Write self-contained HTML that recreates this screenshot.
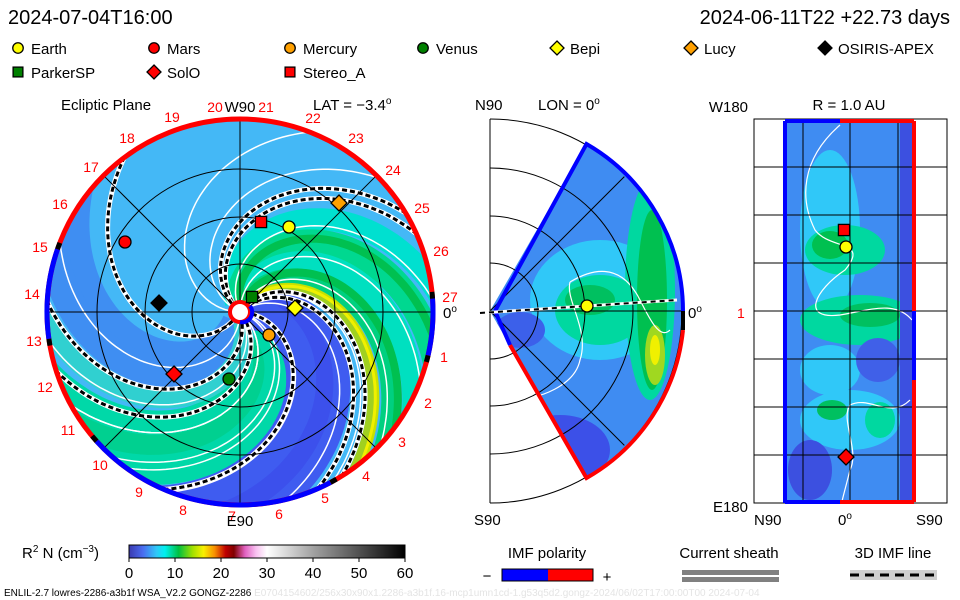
<!DOCTYPE html>
<html><head><meta charset="utf-8"><style>
body{margin:0;background:#fff;}
svg{display:block;font-family:"Liberation Sans",sans-serif;}
</style></head><body>
<svg id="chart" width="960" height="600" viewBox="0 0 960 600">
<defs>
<clipPath id="clipEcl"><circle cx="240" cy="312" r="191"/></clipPath>
<clipPath id="clipWedge"><path d="M490,311 L586.5,143.9 A193,193 0 0 1 586.5,478.1 Z"/></clipPath>
<clipPath id="clipRect"><rect x="785" y="121" width="129" height="381"/></clipPath>
<linearGradient id="cbar" x1="0" x2="1" y1="0" y2="0">
<stop offset="0" stop-color="#3a3ab0"/><stop offset="0.05" stop-color="#4a6cf0"/><stop offset="0.1" stop-color="#30c8f8"/><stop offset="0.13" stop-color="#00f0f0"/><stop offset="0.18" stop-color="#00c040"/><stop offset="0.23" stop-color="#a0e000"/><stop offset="0.27" stop-color="#f8f000"/><stop offset="0.31" stop-color="#f89000"/><stop offset="0.35" stop-color="#c00000"/><stop offset="0.38" stop-color="#800000"/><stop offset="0.42" stop-color="#e060c0"/><stop offset="0.46" stop-color="#f8c0f0"/><stop offset="0.5" stop-color="#ffffff"/><stop offset="0.67" stop-color="#a0a0a0"/><stop offset="1" stop-color="#000000"/>
</linearGradient>
</defs>
<rect width="960" height="600" fill="#fff"/>
<text x="8" y="24" font-size="20">2024-07-04T16:00</text>
<text x="950" y="24" font-size="20" text-anchor="end">2024-06-11T22 +22.73 days</text>
<g id="legend"></g>

<g>
<g clip-path="url(#clipEcl)" id="eclFill"><rect x="40" y="110" width="400" height="400" fill="#44b8f6"/></g>
<g id="eclGrid" fill="none" stroke="#000" stroke-width="1"></g>
<g id="eclRing"></g>
<g id="eclLabels" font-size="14" fill="#f00"></g>
<text x="61" y="110" font-size="15">Ecliptic Plane</text>
<text x="313" y="110" font-size="15">LAT = −3.4<tspan dy="-6" font-size="10">o</tspan></text>
</g>

<g>
<g clip-path="url(#clipWedge)">
<rect x="480" y="130" width="220" height="360" fill="#3f8cf2"/>
<ellipse cx="600" cy="300" rx="70" ry="60" fill="#30c8f8"/>
<ellipse cx="600" cy="310" rx="45" ry="35" fill="#00d8a0"/>
<ellipse cx="590" cy="300" rx="25" ry="15" fill="#00c060"/>
<ellipse cx="650" cy="290" rx="25" ry="110" fill="#00d8a0"/>
<ellipse cx="652" cy="300" rx="15" ry="90" fill="#00c050"/>
<ellipse cx="655" cy="355" rx="10" ry="30" fill="#a0d820"/>
<ellipse cx="655" cy="350" rx="5" ry="15" fill="#f0f000"/>
<ellipse cx="560" cy="450" rx="50" ry="35" fill="#3c50e8"/>
<ellipse cx="520" cy="330" rx="25" ry="18" fill="#3c60ea"/>
<path d="M570,282 C590,270 620,260 640,300 C650,320 660,340 670,330 M570,282 C565,300 590,330 580,360 C575,385 540,400 510,400" fill="none" stroke="#fff" stroke-width="1.2"/>
</g>
<g id="merGrid" fill="none" stroke="#000" stroke-width="1"></g>
<text x="475" y="110" font-size="15">N90</text>
<text x="538" y="110" font-size="15">LON = 0<tspan dy="-6" font-size="10">o</tspan></text>
<text x="474" y="525" font-size="15">S90</text>
<text x="688" y="318" font-size="15">0<tspan dy="-6" font-size="10">o</tspan></text>
</g>

<g>
<g clip-path="url(#clipRect)">
<rect x="785" y="121" width="129" height="381" fill="#3f8cf2"/>
<ellipse cx="830" cy="230" rx="30" ry="80" fill="#30c8f8"/>
<ellipse cx="845" cy="250" rx="40" ry="25" fill="#00d8a0"/>
<ellipse cx="830" cy="245" rx="18" ry="14" fill="#00c050"/>
<ellipse cx="860" cy="320" rx="60" ry="25" fill="#00d8a0"/>
<ellipse cx="870" cy="315" rx="30" ry="12" fill="#00c060"/>
<ellipse cx="830" cy="370" rx="30" ry="25" fill="#30c8f8"/>
<ellipse cx="850" cy="420" rx="50" ry="30" fill="#30c8f8"/>
<ellipse cx="832" cy="410" rx="15" ry="10" fill="#00c060"/>
<ellipse cx="880" cy="420" rx="15" ry="18" fill="#00d8a0"/>
<ellipse cx="878" cy="360" rx="22" ry="22" fill="#4060e8"/>
<ellipse cx="810" cy="470" rx="22" ry="30" fill="#3c50e0"/>
<rect x="900" y="121" width="14" height="381" fill="#3c50e0"/>
<path d="M840,125 C800,160 800,200 815,230 C830,250 870,240 845,270 C815,290 800,320 840,315 C870,310 895,300 912,320 M910,400 C890,420 870,395 850,405 C840,420 860,450 850,470 C845,490 842,500 842,502" fill="none" stroke="#fff" stroke-width="1.2"/>
</g>
<g id="radGrid" fill="none" stroke="#000" stroke-width="1"></g>
<text x="748" y="112" font-size="15" text-anchor="end">W180</text>
<text x="849" y="110" font-size="15" text-anchor="middle">R = 1.0 AU</text>
<text x="748" y="512" font-size="15" text-anchor="end">E180</text>
<text x="754" y="525" font-size="15">N90</text>
<text x="838" y="525" font-size="15">0<tspan dy="-6" font-size="10">o</tspan></text>
<text x="916" y="525" font-size="15">S90</text>
<text x="737" y="318" font-size="14" fill="#f00">1</text>
</g>

<g id="markers"></g>

<g>
<text x="22" y="558" font-size="15">R<tspan dy="-6" font-size="10">2</tspan><tspan dy="6"> N (cm</tspan><tspan dy="-6" font-size="10">−3</tspan><tspan dy="6">)</tspan></text>
<rect x="129" y="545" width="276" height="13" fill="url(#cbar)" stroke="#000" stroke-width="1"/>
<g id="cbarTicks" font-size="15" text-anchor="middle"></g>
</g>
<g>
<text x="547" y="558" font-size="15" text-anchor="middle">IMF polarity</text>
<rect x="502" y="569" width="46" height="12" fill="#0000ff"/>
<rect x="548" y="569" width="45" height="12" fill="#ff0000"/>
<rect x="502" y="569" width="91" height="12" fill="none" stroke="#000"/>
<text x="487" y="581" font-size="15" text-anchor="middle">−</text>
<text x="607" y="582" font-size="15" text-anchor="middle">+</text>
</g>
<g>
<text x="729" y="558" font-size="15" text-anchor="middle">Current sheath</text>
<rect x="682" y="570" width="97" height="5" fill="#808080"/>
<rect x="682" y="577" width="97" height="5" fill="#808080"/>
</g>
<g>
<text x="893" y="558" font-size="15" text-anchor="middle">3D IMF line</text>
<rect x="850" y="570" width="87" height="10" fill="#d0d0d0"/>
<line x1="850" y1="575" x2="937" y2="575" stroke="#000" stroke-width="3" stroke-dasharray="9,6"/>
</g>
<text x="4" y="596" font-size="10">ENLIL-2.7 lowres-2286-a3b1f WSA_V2.2 GONGZ-2286 <tspan fill="#e4e4e4">E0704154602/256x30x90x1.2286-a3b1f.16-mcp1umn1cd-1.g53q5d2.gongz-2024/06/02T17:00:00T00    2024-07-04</tspan></text>
</svg>
<script>
const NS="http://www.w3.org/2000/svg";
const CX=240, CY=312, R=191, K=100;
// data arrays
const legendNames=["Earth","Mars","Mercury","Venus","Bepi","Lucy","OSIRIS-APEX","ParkerSP","SolO","Stereo_A"];
const legendShapes=["circle","circle","circle","circle","diamond","diamond","diamond","square","diamond","square"];
const legendColors=["#ffff00","#ff0000","#ffa000","#008000","#ffff00","#ffa000","#000000","#008000","#ff0000","#ff0000"];
const bodyX=[289,125,269,229,295,339,159,252,174,261];
const bodyY=[227,242,335,379,308,203,303,297,374,222];
const bandAngles=[150,165,205,220,235,185,-82,-95,-105,10,-8,-25,-40,-52,-35,-5,-49,-50];
const bandColors=["#3f8ef2","#3f8ef2","#00d8a8","#00d090","#00d8a8","#30d0d0","#3f5cf0","#3c50ec","#3f5cf0","#00e0d0","#00d890","#00e0c0","#00d080","#a0d020","#00c050","#00c050","#c8e000","#f0f000"];
const bandWidths=[30,30,30,25,30,20,40,40,30,22,26,22,18,10,8,8,5,3];
const fieldAngles=[-20,-42,-60,-75,-125,-150,160,190,210,230,250,5,45,70];
const sheathAngles=[25,32,-65,-57,-112,128,178,199];
const sectorNums=[18,19,20,21,22,23,24,25,26,27,1,2,3,4,5,6,7,8,9,10,11,12,13,14,15,16,17];
const sectorX=[127,172,215,266,313,356,393,422,441,450,444,428,402,366,325,279,232,183,139,100,68,45,34,32,40,60,91];
const sectorY=[143,122,112,112,123,143,175,213,256,302,362,408,447,481,503,519,521,515,497,470,435,392,346,299,252,209,172];
const cbarTicks=[0,10,20,30,40,50,60];
const ringBlue=[[161,188],[222,298],[-13,4]];

function el(tag,attrs,parent){const e=document.createElementNS(NS,tag);for(const k in attrs)e.setAttribute(k,attrs[k]);parent.appendChild(e);return e;}
function spiral(phiOutDeg,r0){let d="";for(let r=r0;r<=R+20;r+=3){const p=phiOutDeg*Math.PI/180+(R-r)/K;const x=CX+r*Math.cos(p),y=CY-r*Math.sin(p);d+=(d?"L":"M")+x.toFixed(1)+","+y.toFixed(1);}return d;}

const fill=document.getElementById("eclFill");
bandAngles.forEach((a,i)=>{const p=el("path",{d:spiral(a,10),fill:"none",stroke:bandColors[i],"stroke-width":bandWidths[i]},fill);

});
fieldAngles.forEach(a=>{const p=el("path",{d:spiral(a,12),fill:"none",stroke:"#fff","stroke-width":1.5},fill);

});
sheathAngles.forEach(a=>{const d=spiral(a,12);
const w=el("path",{d:d,fill:"none",stroke:"#fff","stroke-width":5},fill);


el("path",{d:d,fill:"none",stroke:"#000","stroke-width":3,"stroke-dasharray":"5,3"},fill);});

const g=document.getElementById("eclGrid");
[48,95,143].forEach(r=>el("circle",{cx:CX,cy:CY,r:r},g));
[0,45,90,135].forEach(a=>{const c=Math.cos(a*Math.PI/180)*R,s=Math.sin(a*Math.PI/180)*R;el("line",{x1:CX-c,y1:CY+s,x2:CX+c,y2:CY-s},g);});

const ring=document.getElementById("eclRing");
const rc=el("circle",{cx:CX,cy:CY,r:R+2,fill:"none",stroke:"#ff0000","stroke-width":5},ring);


function arc(r,a1,a2){const p1=a1*Math.PI/180,p2=a2*Math.PI/180;return "M"+(CX+r*Math.cos(p1))+","+(CY-r*Math.sin(p1))+" A"+r+","+r+" 0 0 0 "+(CX+r*Math.cos(p2))+","+(CY-r*Math.sin(p2));}
ringBlue.forEach(b=>{el("path",{d:arc(R+2,b[0],b[1]),fill:"none",stroke:"#0000ff","stroke-width":5},ring);
el("path",{d:arc(R+2,b[0]-2,b[0]),fill:"none",stroke:"#000","stroke-width":5},ring);
el("path",{d:arc(R+2,b[1],b[1]+2),fill:"none",stroke:"#000","stroke-width":5},ring);});
el("circle",{cx:CX,cy:CY,r:10,fill:"#fff",stroke:"#ff0000","stroke-width":4},ring);
el("path",{d:"M"+(CX+10)+","+(CY-6)+" A10,10 0 0 1 "+(CX)+","+(CY+10),fill:"none",stroke:"#0000ff","stroke-width":4},ring);

const lab=document.getElementById("eclLabels");
sectorNums.forEach((n,i)=>{const t=el("text",{x:sectorX[i],y:sectorY[i],"text-anchor":"middle"},lab);t.textContent=n;

});
[["W90",240,112],["E90",240,526]].forEach(l=>{const t=el("text",{x:l[1],y:l[2],"text-anchor":"middle",fill:"#000","font-size":15},lab);t.textContent=l[0];

});
const z=el("text",{x:443,y:318,fill:"#000","font-size":15},lab);z.innerHTML='0<tspan dy="-6" font-size="10">o</tspan>';

// meridional grid
const mg=document.getElementById("merGrid");
const MX=490,MY=311;
el("line",{x1:MX,y1:119,x2:MX,y2:503},mg);
[48,95,143,192].forEach(r=>el("path",{d:"M"+MX+","+(MY-r)+" A"+r+","+r+" 0 0 1 "+MX+","+(MY+r)},mg));
el("line",{x1:MX,y1:MY,x2:683,y2:MY},mg);
[45,-45].forEach(a=>{const p=a*Math.PI/180;el("line",{x1:MX,y1:MY,x2:MX+190*Math.cos(p),y2:MY-190*Math.sin(p)},mg);});
el("path",{d:"M495,311 L586.5,144 A193,193 0 0 1 683,311",stroke:"#0000ff","stroke-width":4},mg);
el("path",{d:"M683,330 A193,193 0 0 1 586.5,478 L510,345",stroke:"#ff0000","stroke-width":4},mg);
el("path",{d:"M495,311 L510,345",stroke:"#0000ff","stroke-width":4},mg);
el("line",{x1:683,y1:311,x2:683,y2:330,stroke:"#000","stroke-width":4},mg);
el("path",{d:"M480,313 L677,300",stroke:"#fff","stroke-width":3},mg);
el("path",{d:"M480,313 L677,300",stroke:"#000","stroke-width":2,"stroke-dasharray":"5,4"},mg);

// radial grid
const rg=document.getElementById("radGrid");
el("rect",{x:754,y:119,width:193,height:384},rg);
[803,850,898].forEach(x=>el("line",{x1:x,y1:119,x2:x,y2:503},rg));
for(let y=167;y<503;y+=48)el("line",{x1:754,y1:y,x2:947,y2:y},rg);
el("line",{x1:785,y1:121,x2:785,y2:503,stroke:"#0000ff","stroke-width":4},rg);
el("line",{x1:785,y1:121,x2:840,y2:121,stroke:"#0000ff","stroke-width":4},rg);
el("line",{x1:840,y1:121,x2:914,y2:121,stroke:"#ff0000","stroke-width":4},rg);
el("line",{x1:785,y1:502,x2:840,y2:502,stroke:"#0000ff","stroke-width":4},rg);
el("line",{x1:840,y1:502,x2:914,y2:502,stroke:"#ff0000","stroke-width":4},rg);
el("line",{x1:914,y1:121,x2:914,y2:311,stroke:"#ff0000","stroke-width":4},rg);
el("line",{x1:914,y1:311,x2:914,y2:380,stroke:"#0000ff","stroke-width":4},rg);
el("line",{x1:914,y1:380,x2:914,y2:502,stroke:"#ff0000","stroke-width":4},rg);

function marker(shape,color,x,y,parent,s){
 let m;
 if(shape==="circle")m=el("circle",{cx:x,cy:y,r:s*0.75,fill:color,stroke:"#000","stroke-width":1.3},parent);
 else if(shape==="square")m=el("rect",{x:x-s*0.7,y:y-s*0.7,width:s*1.4,height:s*1.4,fill:color,stroke:"#000","stroke-width":1.3},parent);
 else m=el("path",{d:"M"+x+","+(y-s)+" L"+(x+s)+","+y+" L"+x+","+(y+s)+" L"+(x-s)+","+y+"Z",fill:color,stroke:"#000","stroke-width":1.3},parent);
 return m;}
const mk=document.getElementById("markers");
bodyX.forEach((x,i)=>{const m=marker(legendShapes[i],legendColors[i],x,bodyY[i],mk,8);

});
let m2=marker("circle","#ffff00",587,306,mk,8);


m2=marker("circle","#ffff00",846,247,mk,8);


m2=marker("square","#ff0000",844,230,mk,8);


m2=marker("diamond","#ff0000",846,457,mk,8);



const lg=document.getElementById("legend");
const legX=[18,154,290,423,557,691,825,18,154,290];
legendNames.forEach((n,i)=>{const y=i<7?48:72;
const m=marker(legendShapes[i],legendColors[i],legX[i],y,lg,7);


const t=el("text",{x:legX[i]+13,y:y+6,"font-size":15},lg);t.textContent=n;

});

const ct=document.getElementById("cbarTicks");
cbarTicks.forEach(v=>{const x=129+v/60*276;el("line",{x1:x,y1:558,x2:x,y2:562,stroke:"#000"},ct);
const t=el("text",{x:x,y:578},ct);t.textContent=v;

});
</script>
</body></html>
